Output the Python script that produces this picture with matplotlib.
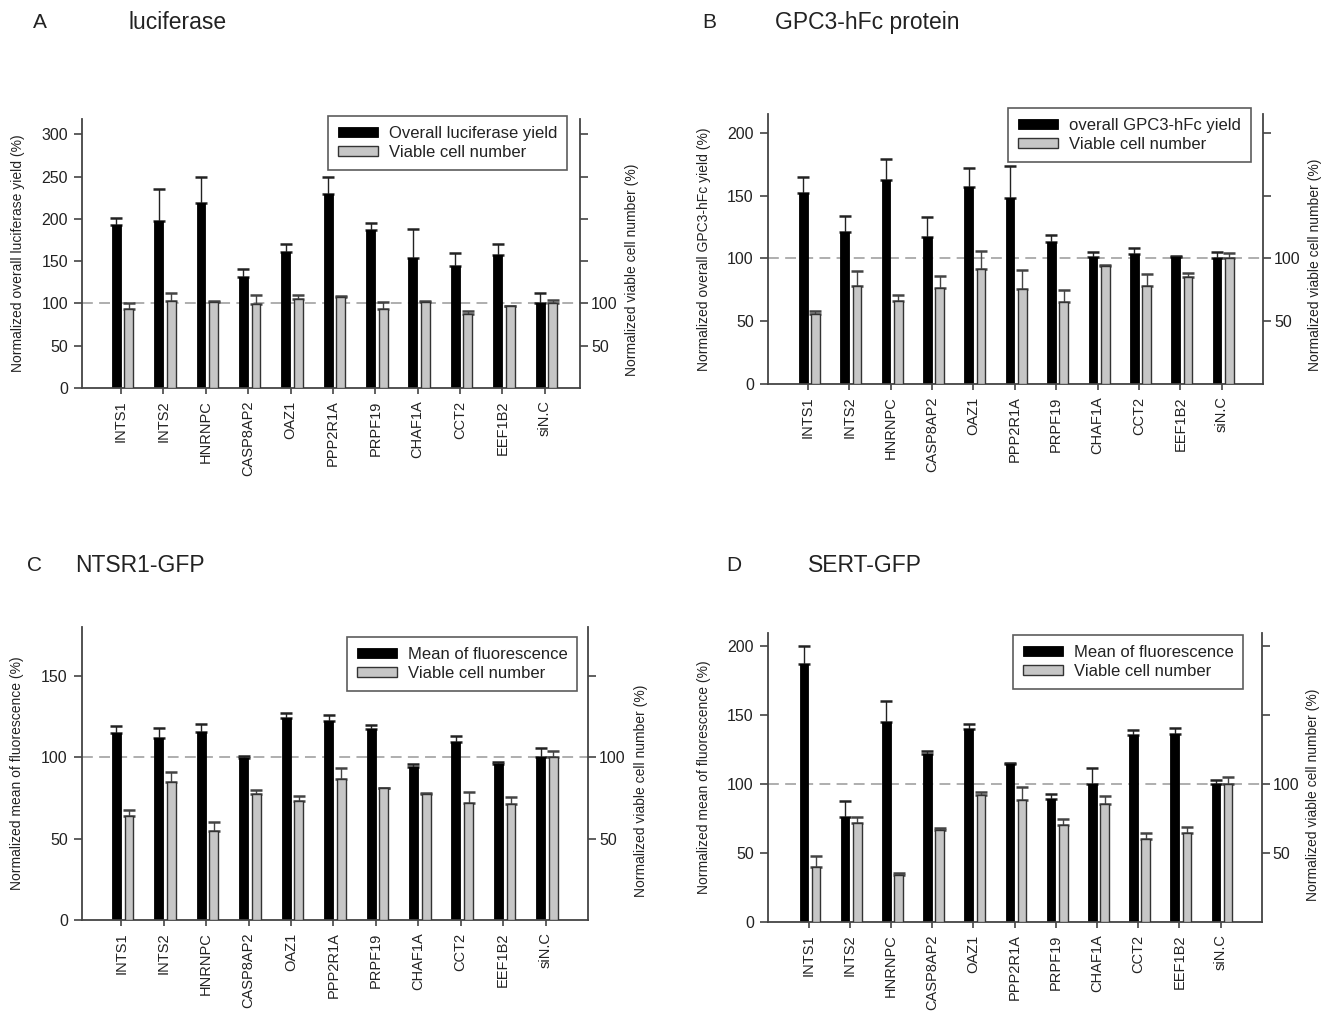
import numpy as np
import matplotlib
matplotlib.use("Agg")
import matplotlib.pyplot as plt

plt.rcParams['font.family'] = ['Liberation Sans', 'DejaVu Sans']

genes = ['INTS1', 'INTS2', 'HNRNPC', 'CASP8AP2', 'OAZ1', 'PPP2R1A',
         'PRPF19', 'CHAF1A', 'CCT2', 'EEF1B2', 'siN.C']

# A - luciferase
luc_yield = [193, 197.4, 219, 131.5, 160.7, 229, 186.7, 153.6, 144.5, 156.7, 100]
luc_yield_err = [7.5, 37.5, 31, 9.4, 9.8, 21, 7.9, 33.9, 15.4, 13.5, 12]
luc_cells = [92.8, 102.6, 101.5, 99.5, 105.4, 107.9, 93.6, 101.1, 88, 96.4, 100]
luc_cells_err = [7.1, 9.1, 1.5, 10.3, 5.1, 0.5, 8.3, 2.3, 3.6, 0.6, 4.6]

# B - GPC3-hFc protein
gpc_yield = [152.1, 120.7, 162.2, 117, 156.6, 148.1, 112.8, 100.8, 103.7, 101, 100]
gpc_yield_err = [12.5, 12.8, 17.1, 15.7, 15.4, 25.3, 6.1, 4, 4.5, 0.6, 5]
gpc_cells = [55.6, 77.7, 66.2, 76.3, 91.8, 75.8, 65.4, 94.1, 77.7, 85.6, 100]
gpc_cells_err = [2.6, 12.5, 4.8, 9.9, 13.8, 14.9, 9.3, 0.3, 9.8, 2.7, 4]

# C - NTSR1-GFP
ntsr_fluo = [114.6, 111.5, 115.2, 99.2, 123.8, 122.2, 117.2, 94, 109.5, 95.6, 100]
ntsr_fluo_err = [4.5, 6.2, 4.9, 1.6, 3.1, 3.4, 2.5, 1.8, 3.7, 1.2, 5.4]
ntsr_cells = [63.8, 84.9, 54.8, 77.3, 73, 86.4, 80.8, 77.3, 72, 71.2, 100]
ntsr_cells_err = [3.7, 5.7, 5.4, 2.5, 3.1, 6.7, 0.4, 0.5, 6.8, 4.1, 3.7]

# D - SERT-GFP
sert_fluo = [187.4, 76.3, 145.2, 121.7, 140.3, 115, 89.1, 100, 135.5, 136.2, 100]
sert_fluo_err = [12.6, 11.4, 15.2, 2.5, 3.7, 0.5, 3.7, 12.1, 4.1, 4.8, 3.4]
sert_cells = [40.1, 72, 34.1, 66.7, 92.5, 88.9, 70.3, 85.5, 60.6, 64.3, 100]
sert_cells_err = [8, 4.3, 1.2, 1.7, 1.9, 9.1, 4.3, 6, 3.7, 4.3, 5.3]

letters = ['A', 'B', 'C', 'D']
titles = ['luciferase', 'GPC3-hFc protein', 'NTSR1-GFP', 'SERT-GFP']
left_labels = ['Normalized overall luciferase yield (%)',
               'Normalized overall GPC3-hFc yield (%)',
               'Normalized mean of fluorescence (%)',
               'Normalized mean of fluorescence (%)']
legend_labels = ['Overall luciferase yield', 'overall GPC3-hFc yield',
                 'Mean of fluorescence', 'Mean of fluorescence']
right_label = 'Normalized viable cell number (%)'

# layout
rects = [[0.0613, 0.6185, 0.3722, 0.2645],
         [0.5738, 0.6224, 0.3702, 0.2655],
         [0.0611, 0.0954, 0.3784, 0.2884],
         [0.5738, 0.0934, 0.3692, 0.2845]]
xlims = [(-0.92, 10.83), (-0.97, 11.0), (-0.93, 11.0), (-0.99, 11.0)]
ylims = [(0, 318), (0, 215), (0, 180), (0, 210)]
ymax_ticks = [300, 200, 150, 200]
leg_anchor = [(0.974, 1.012), (0.976, 1.022), (0.979, 0.966), (0.963, 0.992)]
letter_pos = [(0.025, 0.978), (0.525, 0.978), (0.020, 0.444), (0.543, 0.444)]
title_pos = [(0.0957, 0.978), (0.579, 0.978), (0.056, 0.444), (0.604, 0.444)]

fig = plt.figure(figsize=(13.38, 10.17), dpi=100)

blacks = [luc_yield, gpc_yield, ntsr_fluo, sert_fluo]
blacks_err = [luc_yield_err, gpc_yield_err, ntsr_fluo_err, sert_fluo_err]
grays = [luc_cells, gpc_cells, ntsr_cells, sert_cells]
grays_err = [luc_cells_err, gpc_cells_err, ntsr_cells_err, sert_cells_err]

spine_c = '#444444'
x = np.arange(len(genes))
w = 0.21
for i in range(4):
    ax = fig.add_axes(rects[i])
    ax2 = ax.twinx()
    n = len(genes)
    ax.axhline(100, color='#a8a8a8', lw=1.3, ls=(0, (6, 3.5)), zorder=0)
    hb = ax.bar(x - 0.113, blacks[i], w, color='black', edgecolor='black',
                lw=0.6, zorder=2)
    ax.errorbar(x - 0.113, blacks[i], yerr=[np.zeros(n), blacks_err[i]],
                fmt='none', ecolor='#222222', elinewidth=1.0, capsize=4.5,
                capthick=1.8, zorder=1)
    hg = ax2.bar(x + 0.184, grays[i], w, color='#c6c6c6', edgecolor='#333333',
                 lw=1.0, zorder=2)
    ax2.errorbar(x + 0.184, grays[i], yerr=[np.zeros(n), grays_err[i]],
                 fmt='none', ecolor='#444444', elinewidth=1.0, capsize=4.5,
                 capthick=1.8, zorder=1)

    for a in (ax, ax2):
        a.set_xlim(*xlims[i])
        a.set_ylim(*ylims[i])
        a.spines['top'].set_visible(False)
        for s in a.spines.values():
            s.set_color(spine_c)
            s.set_linewidth(1.3)
    ax.spines['right'].set_visible(False)
    ax2.spines['left'].set_visible(False)
    ax2.spines['bottom'].set_visible(False)

    ax.set_yticks(np.arange(0, ymax_ticks[i] + 1, 50))
    ax.tick_params(axis='y', labelsize=11.5, length=6, width=1.2,
                   color=spine_c, pad=4, labelcolor='#222222')
    rt = np.arange(50, ymax_ticks[i] + 1, 50)
    ax2.set_yticks(rt)
    ax2.set_yticklabels([str(t) if t <= 100 else '' for t in rt])
    ax2.tick_params(axis='y', labelsize=11.5, length=6, width=1.2,
                    color=spine_c, pad=2, labelcolor='#222222')

    ax.set_xticks(x)
    ax.set_xticklabels(genes, rotation=90, fontsize=10.5, color='#222222')
    ax.tick_params(axis='x', length=4, width=1.2, color=spine_c, pad=5)

    ax.set_ylabel(left_labels[i], fontsize=10, color='#222222')
    ax.yaxis.set_label_coords(-0.115, 0.5)
    ax2.set_ylabel(right_label, fontsize=10, color='#222222')
    ax2.yaxis.set_label_coords(1.09, 0.44)

    leg = ax2.legend([hb, hg], [legend_labels[i], 'Viable cell number'],
                     loc='upper right', bbox_to_anchor=leg_anchor[i],
                     borderaxespad=0, fontsize=12, frameon=True,
                     fancybox=False, edgecolor='#333333', handlelength=2.4,
                     handleheight=0.55, labelspacing=0.25, borderpad=0.6,
                     handletextpad=0.65)
    leg.get_frame().set_linewidth(1.2)
    for t in leg.get_texts():
        t.set_color('#222222')

    fig.text(*letter_pos[i], letters[i], fontsize=15, va='center', ha='left',
             color='#222222')
    fig.text(*title_pos[i], titles[i], fontsize=16.5, va='center', ha='left',
             color='#222222')

fig.savefig('out.png', dpi=100)
